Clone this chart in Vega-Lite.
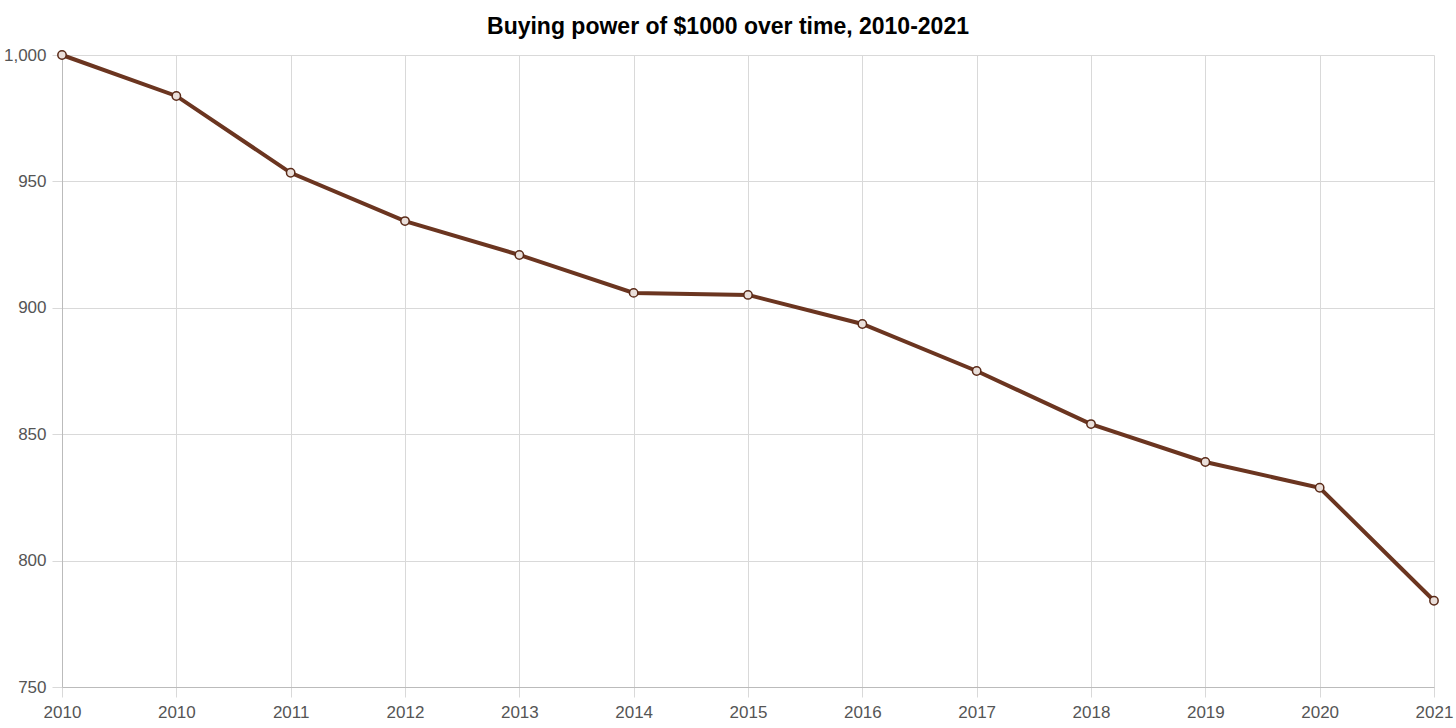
{
  "$schema": "https://vega.github.io/schema/vega-lite/v6.json",
  "autosize": "none",
  "width": 1372,
  "height": 632,
  "padding": {"left": 62, "top": 55, "right": 22, "bottom": 41},
  "background": "white",
  "config": {
    "font": "Liberation Sans",
    "view": {"stroke": null}
  },
  "title": {
    "text": "Buying power of $1000 over time, 2010-2021",
    "fontSize": 23,
    "fontWeight": "bold",
    "color": "#000000",
    "anchor": "middle",
    "dx": -20,
    "offset": 7
  },
  "data": {
    "values": [
      {"period": "2010-start", "value": 1000},
      {"period": "2010", "value": 983.8},
      {"period": "2011", "value": 953.4},
      {"period": "2012", "value": 934.3},
      {"period": "2013", "value": 920.9},
      {"period": "2014", "value": 905.9},
      {"period": "2015", "value": 905.1},
      {"period": "2016", "value": 893.6},
      {"period": "2017", "value": 875.0},
      {"period": "2018", "value": 854.0},
      {"period": "2019", "value": 839.0},
      {"period": "2020", "value": 828.8},
      {"period": "2021", "value": 784.1}
    ]
  },
  "encoding": {
    "x": {
      "field": "period",
      "type": "ordinal",
      "sort": null,
      "scale": {"type": "point", "padding": 0},
      "axis": {
        "title": null,
        "labelAngle": 0,
        "labelExpr": "substring(datum.label, 0, 4)",
        "labelFontSize": 17,
        "labelColor": "#555555",
        "labelPadding": 7,
        "grid": true,
        "gridColor": "#d9d9d9",
        "tickColor": "#d9d9d9",
        "tickSize": 10,
        "domainColor": "#bbbbbb"
      }
    },
    "y": {
      "field": "value",
      "type": "quantitative",
      "scale": {"domain": [750, 1000], "nice": false, "zero": false},
      "axis": {
        "title": null,
        "values": [750, 800, 850, 900, 950, 1000],
        "format": ",.0f",
        "labelFontSize": 17,
        "labelColor": "#555555",
        "labelPadding": 6,
        "grid": true,
        "gridColor": "#d9d9d9",
        "tickColor": "#d9d9d9",
        "tickSize": 10,
        "domainColor": "#bbbbbb"
      }
    }
  },
  "layer": [
    {
      "mark": {"type": "line", "color": "#6b3520", "strokeWidth": 4}
    },
    {
      "mark": {"type": "point", "shape": "circle", "filled": false, "fill": "#eadfda", "fillOpacity": 1, "stroke": "#5a2a18", "strokeWidth": 1.5, "size": 70, "opacity": 1}
    }
  ]
}
